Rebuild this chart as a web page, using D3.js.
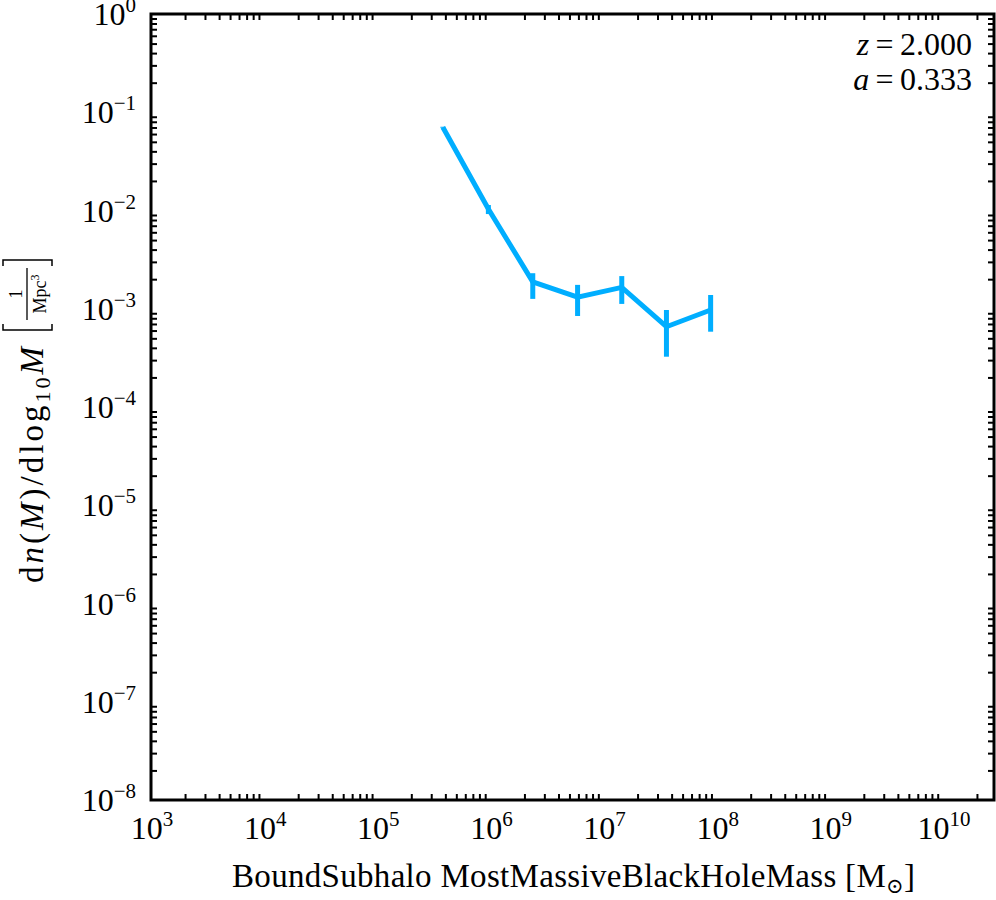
<!DOCTYPE html>
<html>
<head>
<meta charset="utf-8">
<script src="https://cdn.jsdelivr.net/npm/d3@7"></script>
<style>
  body { margin: 0; background: #fff; }
  text { font-family: "Liberation Serif", "DejaVu Serif", serif; fill: #000; }
</style>
</head>
<body>
<svg width="996" height="900"></svg>
<script>
// Data
var mass  = [3.8e5, 9.6e5, 2.37e6, 5.9e6, 1.45e7, 3.6e7, 8.85e7];
var dndm  = [0.0703, 0.01036, 0.00188, 0.00131, 0.00165, 0.000656, 0.000971];
var errHi = [0.0712, 0.01137, 0.00230, 0.00175, 0.00215, 0.000971, 0.00138];
var errLo = [0.0695, 0.00920, 0.00126, 0.000844, 0.00112, 0.000325, 0.000584];
var xDecades = [3, 4, 5, 6, 7, 8, 9, 10];
var yDecades = [0, -1, -2, -3, -4, -5, -6, -7, -8];

var svg = d3.select("svg"),
    pLeft = 151, pRight = 994, pTop = 14, pBottom = 800;

var x = d3.scaleLog().domain([1e3, 2.83e10]).range([pLeft, pRight]);
var y = d3.scaleLog().domain([1e-8, 1]).range([pBottom, pTop]);

// minor ticks 2..9 in every decade
function minors(scale) {
  var d = scale.domain(), out = [];
  var lo = Math.floor(Math.log10(d[0])), hi = Math.ceil(Math.log10(d[1]));
  for (var e = lo; e <= hi; e++)
    for (var m = 2; m <= 9; m++) {
      var v = m * Math.pow(10, e);
      if (v >= d[0] && v <= d[1]) out.push(v);
    }
  return out;
}
var xMajor = xDecades.map(function(e){ return Math.pow(10, e) });
var yMajor = yDecades.map(function(e){ return Math.pow(10, e) });

function drawAxis(axisFn, scale, pos, major) {
  var g = svg.append("g").attr("transform", pos);
  g.call(axisFn(scale).tickValues(major).tickSize(-12).tickFormat(""));
  g.call(axisFn(scale).tickValues(minors(scale)).tickSize(-6).tickFormat(""));
  g.selectAll(".domain").remove();
  g.selectAll("line").attr("stroke", "#000").attr("stroke-width", 2);
}
drawAxis(d3.axisBottom, x, "translate(0," + pBottom + ")", xMajor);
drawAxis(d3.axisTop, x, "translate(0," + pTop + ")", xMajor);
drawAxis(d3.axisLeft, y, "translate(" + pLeft + ",0)", yMajor);
drawAxis(d3.axisRight, y, "translate(" + pRight + ",0)", yMajor);

// frame
svg.append("rect")
  .attr("x", pLeft).attr("y", pTop)
  .attr("width", pRight - pLeft).attr("height", pBottom - pTop)
  .attr("fill", "none").attr("stroke", "#000").attr("stroke-width", 3);

// tick labels
function expText(sel, e) {
  sel.append("tspan").text("10");
  sel.append("tspan").attr("dy", -13).style("font-size", "21px")
    .text(e < 0 ? "\u2212" + (-e) : e);
}
xDecades.forEach(function(e){
  svg.append("text")
    .attr("x", x(Math.pow(10, e)) + 1).attr("y", pBottom + 39)
    .attr("text-anchor", "middle").style("font-size", "32px")
    .call(expText, e);
});
yDecades.forEach(function(e){
  svg.append("text")
    .attr("x", 136).attr("y", y(Math.pow(10, e)) + 11)
    .attr("text-anchor", "end").style("font-size", "32px")
    .call(expText, e);
});

// line and error bars
var color = "#00aeff";
var pts = mass.map(function(m, i){ return {m: m, v: dndm[i], hi: errHi[i], lo: errLo[i]} });

svg.append("path")
  .datum(pts)
  .attr("fill", "none")
  .attr("stroke", color)
  .attr("stroke-width", 5)
  .attr("d", d3.line()
    .x(function(d){ return x(d.m) })
    .y(function(d){ return y(d.v) }));

svg.selectAll("errbar")
  .data(pts)
  .enter()
  .append("line")
    .attr("x1", function(d){ return x(d.m) })
    .attr("x2", function(d){ return x(d.m) })
    .attr("y1", function(d){ return y(d.hi) })
    .attr("y2", function(d){ return y(d.lo) })
    .attr("stroke", color)
    .attr("stroke-width", 5);

// redshift annotation
var ann1 = svg.append("text").attr("x", 972).attr("y", 55)
  .attr("text-anchor", "end").style("font-size", "32px");
ann1.append("tspan").style("font-style", "italic").text("z");
ann1.append("tspan").text("\u2009=\u20092.000");
var ann2 = svg.append("text").attr("x", 972).attr("y", 90)
  .attr("text-anchor", "end").style("font-size", "32px");
ann2.append("tspan").style("font-style", "italic").text("a");
ann2.append("tspan").text("\u2009=\u20090.333");

// x label
var xl = svg.append("text")
  .attr("x", 232).attr("y", 887)
  .attr("textLength", 683).attr("lengthAdjust", "spacing")
  .style("font-size", "33px");
xl.append("tspan").text("BoundSubhalo MostMassiveBlackHoleMass [M");
xl.append("tspan").attr("dy", 6).style("font-size", "21px").text("\u2299");
xl.append("tspan").attr("dy", -6).text("]");

// y label, rotated
var yg = svg.append("g").attr("transform", "translate(0,430) rotate(-90)");
var yl = yg.append("text").attr("x", -153).attr("y", 43)
  .attr("textLength", 236).attr("lengthAdjust", "spacing")
  .style("font-size", "33px");
yl.append("tspan").text("d");
yl.append("tspan").style("font-style", "italic").text("n");
yl.append("tspan").text("(");
yl.append("tspan").style("font-style", "italic").text("M");
yl.append("tspan").text(")/dlog");
yl.append("tspan").attr("dy", 7).style("font-size", "22px").text("10");
yl.append("tspan").attr("dy", -7).style("font-style", "italic").text("M");

var bx = 100;
var bw = 70;
function bracket(x0, dir) {
  yg.append("path")
    .attr("d", "M" + (x0 + dir * 6) + ",3 L" + x0 + ",3 L" + x0 + ",52 L" + (x0 + dir * 6) + ",52")
    .attr("fill", "none").attr("stroke", "#000").attr("stroke-width", 1.5);
}
bracket(bx, 1);
bracket(bx + bw, -1);
yg.append("line")
  .attr("x1", bx + 10).attr("x2", bx + bw - 8)
  .attr("y1", 27).attr("y2", 27)
  .attr("stroke", "#000").attr("stroke-width", 1.3);
yg.append("text").attr("x", bx + bw / 2 + 1).attr("y", 22)
  .attr("text-anchor", "middle").style("font-size", "18px").text("1");
var mpc = yg.append("text").attr("x", bx + bw / 2 + 1).attr("y", 46)
  .attr("text-anchor", "middle").style("font-size", "18px");
mpc.append("tspan").text("Mpc");
mpc.append("tspan").attr("dy", -7).style("font-size", "12px").text("3");
</script>
</body>
</html>
